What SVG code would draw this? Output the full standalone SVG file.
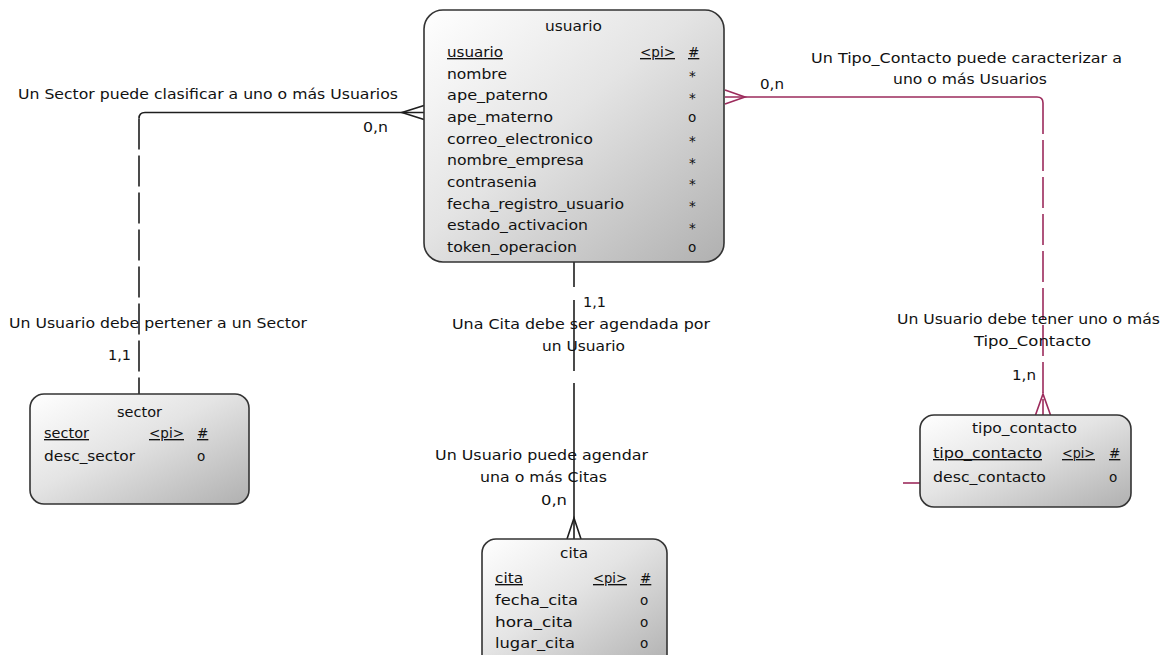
<svg xmlns="http://www.w3.org/2000/svg" width="1167" height="655" viewBox="0 0 1167 655">
  <defs>
    <linearGradient id="entityFill" x1="0" y1="0" x2="1" y2="1">
      <stop offset="0" stop-color="#ffffff"/>
      <stop offset="0.45" stop-color="#e4e4e4"/>
      <stop offset="1" stop-color="#b0b0b0"/>
    </linearGradient>
    <style>
      .box { fill: url(#entityFill); stroke: #333333; stroke-width: 1.6; }
      text { font-family: "DejaVu Sans", "Liberation Sans", sans-serif; font-size: 13.5px; fill: #111111; }
      .title { text-anchor: middle; }
      .mid { text-anchor: middle; }
      .pk { text-decoration: underline; }
      .link { fill: none; stroke: #1e1e1e; stroke-width: 1.6; }
      .link2 { fill: none; stroke: #9c2b5c; stroke-width: 1.6; }
      .dash { stroke-dasharray: 31 6; }
    </style>
  </defs>
  <rect width="1167" height="655" fill="#ffffff"/>

  <!-- relationships -->
  <g id="connectors">
    <!-- sector - usuario -->
    <path class="link" d="M424,112.5 H145 Q139,112.5 139,118.5"/>
    <path class="link dash" d="M139,118.5 V394"/>
    <path class="link" d="M424,105.5 L402,112.5 L424,119.5"/>
    <!-- tipo_contacto - usuario -->
    <path class="link2" d="M725,97 H1037 Q1043,97 1043,103"/>
    <path class="link2 dash" d="M1043,103 V415"/>
    <path class="link2" d="M725,90 L745,97 L725,104"/>
    <path class="link2" d="M1035.5,415 L1043,394 L1050.5,415"/>
    <path class="link2" d="M903,483 H920"/>
    <!-- cita - usuario -->
    <path class="link" d="M574,262 V287 M574,300 V371 M574,383 V539"/>
    <path class="link" d="M567,539 L574,518 L581,539"/>

    <text x="18" y="99" textLength="380" lengthAdjust="spacingAndGlyphs">Un Sector puede clasificar a uno o más Usuarios</text>
    <text x="363" y="132" textLength="25" lengthAdjust="spacingAndGlyphs">0,n</text>
    <text x="9" y="328" textLength="298" lengthAdjust="spacingAndGlyphs">Un Usuario debe pertener a un Sector</text>
    <text x="108" y="360" textLength="23" lengthAdjust="spacingAndGlyphs">1,1</text>

    <text class="mid" x="966.5" y="63" textLength="311" lengthAdjust="spacingAndGlyphs">Un Tipo_Contacto puede caracterizar a</text>
    <text class="mid" x="970" y="83.5" textLength="154" lengthAdjust="spacingAndGlyphs">uno o más Usuarios</text>
    <text x="760" y="89" textLength="24" lengthAdjust="spacingAndGlyphs">0,n</text>
    <text class="mid" x="1028.5" y="324" textLength="263" lengthAdjust="spacingAndGlyphs">Un Usuario debe tener uno o más</text>
    <text class="mid" x="1032.5" y="346" textLength="117" lengthAdjust="spacingAndGlyphs">Tipo_Contacto</text>
    <text x="1012" y="380" textLength="24" lengthAdjust="spacingAndGlyphs">1,n</text>

    <text x="583" y="307" textLength="23" lengthAdjust="spacingAndGlyphs">1,1</text>
    <text class="mid" x="581" y="329" textLength="258" lengthAdjust="spacingAndGlyphs">Una Cita debe ser agendada por</text>
    <text class="mid" x="583.5" y="351" textLength="83" lengthAdjust="spacingAndGlyphs">un Usuario</text>
    <text class="mid" x="541.5" y="460" textLength="213" lengthAdjust="spacingAndGlyphs">Un Usuario puede agendar</text>
    <text class="mid" x="543.5" y="482" textLength="127" lengthAdjust="spacingAndGlyphs">una o más Citas</text>
    <text x="541" y="505" textLength="26" lengthAdjust="spacingAndGlyphs">0,n</text>
  </g>

  <!-- entity: usuario -->
  <g id="usuario">
    <rect class="box" x="424" y="10" width="300" height="252" rx="19" ry="19"/>
    <text class="title" x="573.5" y="31" textLength="57" lengthAdjust="spacingAndGlyphs">usuario</text>
    <text class="pk" x="447" y="57" textLength="56" lengthAdjust="spacingAndGlyphs">usuario</text>
    <text class="pk" x="640" y="57" textLength="35" lengthAdjust="spacingAndGlyphs">&lt;pi&gt;</text>
    <text class="pk" x="688" y="57">#</text>
    <text x="447" y="78.5" textLength="60" lengthAdjust="spacingAndGlyphs">nombre</text>
    <text x="447" y="100" textLength="101" lengthAdjust="spacingAndGlyphs">ape_paterno</text>
    <text x="447" y="122" textLength="106" lengthAdjust="spacingAndGlyphs">ape_materno</text>
    <text x="447" y="143.5" textLength="146" lengthAdjust="spacingAndGlyphs">correo_electronico</text>
    <text x="447" y="165" textLength="137" lengthAdjust="spacingAndGlyphs">nombre_empresa</text>
    <text x="447" y="187" textLength="90" lengthAdjust="spacingAndGlyphs">contrasenia</text>
    <text x="447" y="208.5" textLength="177" lengthAdjust="spacingAndGlyphs">fecha_registro_usuario</text>
    <text x="447" y="230" textLength="141" lengthAdjust="spacingAndGlyphs">estado_activacion</text>
    <text x="447" y="252" textLength="130" lengthAdjust="spacingAndGlyphs">token_operacion</text>
    <text x="689" y="81">*</text>
    <text x="689" y="102.5">*</text>
    <text x="688" y="122">o</text>
    <text x="689" y="146">*</text>
    <text x="689" y="167.5">*</text>
    <text x="689" y="189">*</text>
    <text x="689" y="211">*</text>
    <text x="689" y="232.5">*</text>
    <text x="688" y="252">o</text>
  </g>

  <!-- entity: sector -->
  <g id="sector">
    <rect class="box" x="30" y="394" width="219" height="110" rx="14" ry="14"/>
    <text class="title" x="139.5" y="416.5" textLength="45" lengthAdjust="spacingAndGlyphs">sector</text>
    <text class="pk" x="44" y="438" textLength="45" lengthAdjust="spacingAndGlyphs">sector</text>
    <text class="pk" x="149" y="438" textLength="35" lengthAdjust="spacingAndGlyphs">&lt;pi&gt;</text>
    <text class="pk" x="197" y="438">#</text>
    <text x="44" y="460.5" textLength="91" lengthAdjust="spacingAndGlyphs">desc_sector</text>
    <text x="197" y="460.5">o</text>
  </g>

  <!-- entity: tipo_contacto -->
  <g id="tipo_contacto">
    <rect class="box" x="920" y="415" width="211" height="92" rx="14" ry="14"/>
    <text class="title" x="1024.5" y="433" textLength="105" lengthAdjust="spacingAndGlyphs">tipo_contacto</text>
    <text class="pk" x="933" y="458" textLength="109" lengthAdjust="spacingAndGlyphs">tipo_contacto</text>
    <text class="pk" x="1062" y="458" textLength="33" lengthAdjust="spacingAndGlyphs">&lt;pi&gt;</text>
    <text class="pk" x="1109" y="458">#</text>
    <text x="933" y="481.5" textLength="113" lengthAdjust="spacingAndGlyphs">desc_contacto</text>
    <text x="1109" y="481.5">o</text>
  </g>

  <!-- entity: cita -->
  <g id="cita">
    <rect class="box" x="482" y="539" width="185" height="130" rx="14" ry="14"/>
    <text class="title" x="574" y="558" textLength="28" lengthAdjust="spacingAndGlyphs">cita</text>
    <text class="pk" x="495" y="583" textLength="28" lengthAdjust="spacingAndGlyphs">cita</text>
    <text class="pk" x="593" y="583" textLength="34" lengthAdjust="spacingAndGlyphs">&lt;pi&gt;</text>
    <text class="pk" x="640" y="583">#</text>
    <text x="495" y="605" textLength="83" lengthAdjust="spacingAndGlyphs">fecha_cita</text>
    <text x="495" y="627" textLength="78" lengthAdjust="spacingAndGlyphs">hora_cita</text>
    <text x="495" y="648" textLength="80" lengthAdjust="spacingAndGlyphs">lugar_cita</text>
    <text x="640" y="605">o</text>
    <text x="640" y="627">o</text>
    <text x="640" y="648">o</text>
  </g>
</svg>
